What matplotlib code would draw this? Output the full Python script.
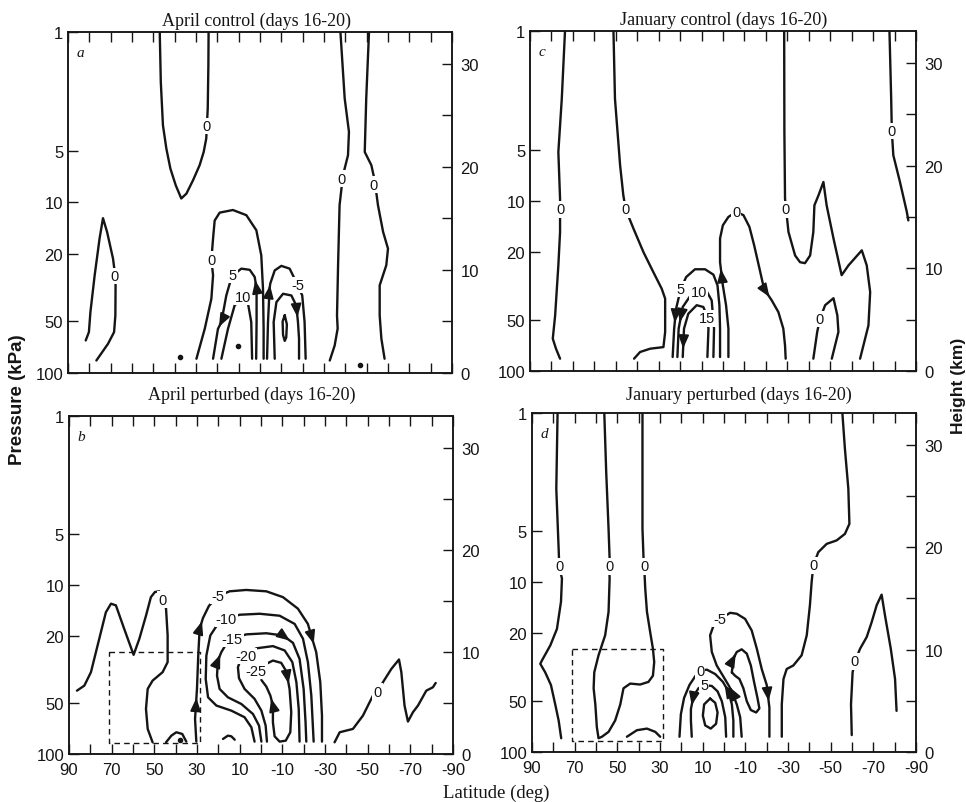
import numpy as np
import matplotlib
matplotlib.use("Agg")
import matplotlib.pyplot as plt
from matplotlib.ticker import NullLocator

plt.rcParams['font.family'] = ['Liberation Sans', 'DejaVu Sans']

# stream function contours, as (latitude deg, pressure kPa)

# --- a: April control ---
a_lobe = [(81.7, 64.6), (80.2, 57.7), (79.5, 44.1), (77.5, 26.8), (75.2, 16.3), (73.6, 12.4),
          (71.7, 14.9), (68.9, 21.4), (68.1, 25.6), (67.7, 30.7), (67.8, 46.1), (68.4, 57.7),
          (71.25, 67.6), (76.7, 84.7)]
a_cup = [(47.0, 1.0), (46.5, 1.97), (45.5, 3.53), (43.9, 4.84), (42.0, 6.35), (39.5, 7.95),
         (36.9, 9.5), (34.5, 8.9), (31.4, 7.43), (28.3, 6.06), (26.4, 5.07), (25.2, 4.23),
         (24.5, 2.82), (24.2, 1.57), (24.1, 1.0)]
a_east1 = [(-37.7, 1.0), (-39.7, 2.46), (-41.7, 3.86), (-41.25, 5.3), (-38.9, 6.94), (-37.3, 10.4),
           (-36.6, 23.4), (-36.1, 46.1), (-36.4, 55.0), (-35.0, 69.2), (-32.7, 84.7)]
a_east2 = [(-51.1, 1.0), (-49.8, 2.46), (-49.1, 5.07), (-52.2, 6.06), (-53.75, 7.43), (-55.3, 10.4),
           (-57.7, 14.9), (-60.0, 18.7), (-59.2, 23.4), (-56.1, 30.7), (-56.1, 46.1), (-56.9, 63.1),
           (-58.4, 82.7)]
a_zero = [(29.8, 82.7), (25.9, 55.2), (22.8, 36.8), (22.0, 26.8), (22.8, 21.7), (22.0, 16.3),
          (21.25, 12.8), (18.9, 11.5), (12.7, 11.1), (6.4, 11.9), (1.7, 14.6), (-0.6, 20.5),
          (-1.4, 32.1), (-1.7, 55.2), (-1.7, 82.7)]
a_p5 = [(22.0, 82.7), (19.7, 55.2), (18.1, 50.4), (15.8, 35.2), (14.2, 30.0), (12.7, 26.8),
        (8.75, 24.5), (4.8, 24.9), (2.5, 27.4), (1.6, 32.0), (1.6, 50.0), (1.8, 82.7)]
a_p10 = [(18.1, 82.7), (15.0, 55.2), (11.9, 40.3), (8.0, 36.0), (5.6, 39.4), (4.1, 50.4), (3.7, 82.7)]
a_m5 = [(-3.3, 82.7), (-3.75, 50.4), (-4.5, 32.1), (-4.8, 30.0), (-6.9, 25.1), (-10.0, 23.6),
        (-13.9, 24.5), (-17.0, 29.4), (-19.8, 35.2), (-20.9, 50.4), (-21.4, 82.7)]
a_m10 = [(-6.9, 82.7), (-6.4, 50.4), (-7.7, 38.5), (-10.8, 34.4), (-14.7, 35.2), (-17.0, 40.3),
         (-17.8, 50.4), (-18.3, 63.1), (-18.3, 82.7)]
a_min = [(-11.6, 46.0), (-12.6, 52.0), (-12.3, 62.0), (-11.6, 65.0), (-10.8, 60.0), (-10.6, 50.0),
         (-11.6, 46.0)]
a_dots = [(10.3, 69.2), (37.6, 81.0), (-46.7, 90.0)]
a_labels = [("0", 68.4, 27.0), ("0", 24.9, 3.58), ("0", -38.1, 7.26), ("0", -53.4, 7.88),
            ("0", 22.8, 21.7), ("5", 12.7, 26.8), ("10", 8.0, 36.0), ("-5", -17.8, 30.5)]
a_arrows = [("a_p5", 1, -1), ("a_p5", 8, -1), ("a_m5", 2, 1), ("a_m10", 5, 1)]

# --- b: April perturbed ---
b_ridge = [(86.25, 42.2), (82.8, 39.4), (79.7, 32.8), (75.8, 20.8), (72.7, 14.5), (70.3, 12.9),
           (68.0, 13.2), (64.1, 18.2), (59.7, 25.9), (57.0, 20.8), (53.9, 15.2), (51.6, 11.8),
           (49.7, 11.0), (47.7, 10.9), (46.1, 12.2), (44.5, 13.8), (43.75, 19.9), (43.75, 28.6),
           (46.1, 32.8), (50.8, 36.8), (53.1, 41.2), (53.9, 54.1), (53.1, 71.1), (50.8, 85.3)]
b_bump1 = [(44.5, 85.3), (42.0, 77.9), (39.7, 74.4), (36.9, 76.1), (35.0, 84.5)]
b_bump2 = [(17.8, 81.5), (15.5, 77.9), (13.9, 78.6), (12.3, 82.3)]
b_m5 = [(30.3, 84.5), (30.9, 62.0), (30.0, 41.2), (29.4, 26.2), (28.75, 18.2), (27.2, 15.7),
        (24.4, 13.3), (20.2, 11.65), (14.7, 10.9), (6.9, 10.7), (-2.5, 10.9), (-10.3, 11.8),
        (-17.3, 13.8), (-22.0, 17.0), (-25.9, 25.0), (-27.8, 37.6), (-28.6, 59.3), (-28.6, 84.5)]
b_m10 = [(3.0, 84.5), (4.5, 69.5), (7.7, 60.6), (13.9, 55.4), (20.9, 51.7), (24.8, 46.2),
         (25.9, 36.0), (25.6, 26.2), (23.75, 19.9), (20.2, 17.0), (16.25, 15.9), (10.0, 15.0),
         (0.6, 14.8), (-8.75, 15.2), (-15.8, 17.0), (-19.7, 20.8), (-22.0, 28.6), (-23.6, 45.1),
         (-24.7, 84.5)]
b_m15 = [(-0.2, 84.5), (0.9, 68.0), (3.75, 58.0), (9.2, 50.6), (15.5, 46.2), (19.4, 41.2),
         (20.6, 34.4), (20.2, 28.0), (18.6, 25.0), (16.25, 22.3), (13.6, 20.8), (6.9, 19.6),
         (-2.5, 19.3), (-10.3, 19.9), (-15.0, 22.0), (-18.1, 27.4), (-20.0, 41.2), (-20.9, 64.9),
         (-21.25, 84.5)]
b_m20 = [(-2.8, 84.5), (-2.2, 68.0), (-0.2, 55.4), (3.0, 47.2), (7.7, 41.2), (10.3, 35.6),
         (10.8, 30.7), (9.7, 28.0), (7.2, 26.2), (2.2, 23.7), (-5.6, 23.0), (-11.1, 24.4),
         (-14.7, 28.6), (-16.6, 37.6), (-17.7, 54.1), (-18.1, 84.5)]
b_m25 = [(-0.9, 30.0), (-5.6, 28.0), (-9.5, 28.9), (-11.9, 32.5), (-13.4, 41.2), (-14.2, 56.6),
         (-13.75, 74.4), (-11.6, 83.4), (-8.75, 84.5), (-6.4, 78.6), (-5.6, 64.9), (-5.6, 51.7),
         (-4.4, 45.1), (-2.5, 39.9), (-0.2, 36.5)]
b_east = [(-34.5, 85.3), (-36.9, 74.4), (-40.0, 72.7), (-43.1, 71.1), (-47.8, 59.3), (-52.5, 45.1),
          (-54.5, 42.7), (-57.2, 37.6), (-61.1, 31.4), (-64.7, 27.6), (-65.8, 32.8), (-67.3, 51.7),
          (-68.9, 64.3), (-71.25, 56.6), (-73.6, 51.7), (-77.5, 42.2), (-80.6, 40.3), (-81.9, 38.0)]
b_dots = [(38.1, 83.0)]
b_labels = [("0", 46.1, 12.2), ("-5", 20.2, 11.65), ("-10", 16.25, 15.9), ("-15", 13.6, 20.8),
            ("-20", 7.2, 26.2), ("-25", 2.2, 32.1), ("0", -54.5, 42.7)]
b_arrows = [("b_m5", 1, 1), ("b_m5", 4, 1), ("b_m5", 13, 1), ("b_m15", 7, 1), ("b_m15", 13, 1),
            ("b_m25", 3, 1), ("b_m25", 11, 1)]

# --- c: January control ---
c_w1 = [(73.7, 1.0), (75.2, 2.5), (76.8, 5.15), (76.0, 9.7), (76.0, 15.2), (76.8, 23.9),
        (78.3, 47.1), (79.4, 64.5), (77.9, 73.9), (76.0, 84.6)]
c_w2 = [(51.1, 1.0), (50.4, 2.5), (48.0, 6.17), (46.5, 9.26), (45.4, 11.2), (41.8, 14.5),
        (37.1, 20.0), (32.5, 26.2), (28.6, 32.8), (27.0, 37.5), (27.0, 58.9), (27.8, 72.3),
        (34.0, 73.9), (38.7, 77.3), (41.5, 84.6)]
c_p5 = [(23.5, 82.7), (22.8, 56.3), (21.9, 43.0), (19.7, 32.8), (17.2, 28.0), (13.1, 25.2),
        (8.4, 25.2), (4.5, 27.1), (2.6, 31.3), (1.7, 41.0), (1.4, 56.3), (1.4, 82.7)]
c_p10 = [(21.3, 82.7), (20.7, 56.3), (18.8, 42.0), (14.6, 35.1), (10.7, 33.2), (7.6, 34.0),
         (5.3, 38.4), (4.2, 56.3), (4.5, 82.7)]
c_p15 = [(18.8, 82.7), (18.2, 56.3), (16.2, 46.0), (12.3, 41.0), (9.2, 42.0), (7.3, 48.1),
         (6.8, 56.3), (7.3, 82.7)]
c_zero = [(-2.5, 82.7), (-2.5, 56.3), (-1.4, 41.0), (0.1, 31.3), (1.4, 22.9), (1.4, 16.6),
          (0.1, 13.9), (-2.5, 12.4), (-6.1, 11.6), (-9.5, 12.1), (-12.3, 14.2), (-14.5, 18.2),
          (-17.0, 25.0), (-19.1, 32.8), (-22.7, 38.4), (-25.8, 45.0), (-28.1, 56.3), (-28.9, 70.6),
          (-29.2, 84.6)]
c_e1 = [(-28.5, 1.0), (-28.6, 3.93), (-28.9, 9.69), (-30.5, 15.2), (-33.6, 20.9), (-35.9, 22.9),
        (-38.2, 23.2), (-40.6, 20.9), (-42.1, 15.2), (-42.6, 10.6), (-44.5, 9.26), (-46.8, 7.73),
        (-48.3, 10.6), (-51.5, 16.6), (-55.3, 27.3), (-58.5, 23.9), (-64.7, 19.5), (-67.0, 23.9),
        (-68.6, 34.3), (-67.8, 53.9), (-63.9, 84.6)]
c_e2 = [(-42.1, 84.6), (-43.9, 58.9), (-45.2, 49.3), (-47.6, 41.0), (-51.5, 37.3), (-53.3, 47.1),
        (-53.8, 58.9), (-50.7, 84.6)]
c_e3 = [(-77.6, 1.0), (-78.4, 2.5), (-78.7, 3.88), (-79.4, 5.38), (-82.5, 7.73), (-85.7, 11.6),
        (-86.4, 13.0)]
c_labels = [("0", 76.0, 11.2), ("0", 45.4, 11.2), ("5", 19.7, 32.8), ("10", 11.3, 34.3),
            ("15", 7.3, 49.0), ("0", -6.1, 11.6), ("0", -28.9, 11.2), ("0", -45.2, 49.3),
            ("0", -78.7, 3.88)]
c_arrows = [("c_p5", 1, -1), ("c_p10", 1, -1), ("c_p15", 0, -1), ("c_zero", 3, 1), ("c_zero", 13, 1)]

# --- d: January perturbed ---
d_w1 = [(78.0, 1.0), (78.6, 2.8), (77.5, 6.34), (77.2, 8.04), (75.95, 9.49), (76.4, 13.0),
        (78.3, 18.8), (81.4, 23.5), (85.3, 28.8), (86.1, 30.2), (83.8, 33.9), (81.1, 40.3),
        (79.1, 52.4), (77.5, 65.2), (76.3, 83.0)]
d_u = [(56.1, 1.0), (55.2, 2.24), (54.1, 4.83), (53.6, 7.25), (53.8, 8.04), (53.6, 9.49),
       (54.1, 14.9), (55.7, 20.5), (58.8, 26.9), (60.8, 33.9), (61.1, 42.1), (60.3, 52.4),
       (59.6, 71.2), (58.8, 83.0), (57.2, 81.3), (54.1, 76.1), (51.0, 65.2), (48.6, 52.4),
       (47.1, 42.1), (43.95, 39.5), (39.3, 40.0), (35.4, 38.6), (33.3, 35.5), (32.7, 29.5),
       (33.3, 24.6), (34.6, 19.6), (36.1, 14.9), (36.9, 10.9), (37.4, 8.04), (37.7, 7.25),
       (38.2, 4.83), (38.2, 2.24), (38.2, 1.0)]
d_bump = [(45.5, 81.3), (40.8, 74.4), (36.1, 72.8), (32.2, 76.1), (29.9, 81.3)]
d_zero = [(20.85, 81.3), (20.2, 59.8), (18.7, 48.0), (16.2, 40.3), (13.5, 35.8), (11.2, 33.1),
          (8.0, 32.7), (4.1, 34.7), (0.5, 38.6), (-2.1, 43.9), (-3.7, 52.4), (-4.4, 65.2),
          (-4.4, 81.3)]
d_p5 = [(15.1, 81.3), (15.5, 65.2), (15.5, 55.9), (14.3, 46.9), (11.95, 42.1), (9.3, 40.3),
        (5.7, 40.8), (3.0, 43.9), (1.0, 50.2), (-0.6, 62.4), (-1.0, 81.3)]
d_oval = [(6.5, 48.4), (4.1, 51.3), (3.0, 58.5), (3.7, 68.2), (6.2, 72.8), (8.8, 69.7),
          (9.9, 61.0), (9.3, 52.4), (6.5, 48.4)]
d_m5 = [(-8.3, 81.3), (-7.6, 62.4), (-6.0, 52.4), (-3.7, 43.9), (-2.1, 40.3), (0.5, 35.5),
        (3.4, 30.9), (5.7, 25.7), (6.5, 20.5), (4.9, 18.0), (2.1, 16.5), (-2.9, 15.1),
        (-6.0, 15.3), (-9.9, 16.4), (-13.0, 19.2), (-15.4, 24.6), (-17.7, 32.4), (-20.05, 40.3),
        (-21.3, 54.8), (-21.3, 81.3)]
d_loop = [(-3.7, 33.9), (-4.4, 28.1), (-6.0, 25.7), (-8.3, 24.8), (-10.7, 26.3), (-12.6, 30.9),
          (-14.1, 38.6), (-15.7, 48.0), (-16.6, 55.3), (-15.1, 58.5), (-12.6, 56.6), (-10.7, 50.2),
          (-9.1, 42.1), (-7.25, 37.1), (-5.2, 35.5), (-3.7, 33.9)]
d_e1 = [(-55.5, 1.0), (-56.7, 1.63), (-58.3, 2.8), (-58.8, 4.51), (-56.7, 5.17), (-52.8, 5.65),
        (-48.15, 5.92), (-44.2, 6.63), (-41.9, 7.93), (-41.1, 9.93), (-40.3, 13.6), (-38.8, 20.5),
        (-36.4, 26.9), (-32.5, 30.9), (-29.4, 32.4), (-27.9, 37.1), (-27.1, 52.4), (-27.1, 81.3)]
d_e2 = [(-59.9, 79.5), (-59.55, 52.4), (-60.3, 33.9), (-61.4, 29.2), (-63.8, 24.6), (-66.9, 21.0),
        (-69.2, 17.2), (-71.6, 13.6), (-73.9, 11.8), (-75.5, 15.7), (-78.2, 24.6), (-80.2, 37.1),
        (-80.9, 57.2)]
d_labels = [("0", 77.2, 8.04), ("0", 53.8, 8.04), ("0", 37.4, 8.04), ("0", 11.2, 33.1),
            ("5", 9.3, 40.3), ("-5", 2.1, 16.5), ("0", -41.9, 7.93), ("0", -61.4, 29.2)]
d_arrows = [("d_p5", 2, -1), ("d_zero", 8, -1), ("d_m5", 3, 1), ("d_loop", 1, 1), ("d_m5", 17, 1)]

# dashed box drawn in both perturbed panels
box_lat = [71.2, 28.5]
box_p = [24.8, 86.0]

titles = ["April control (days 16-20)", "April perturbed (days 16-20)",
          "January control (days 16-20)", "January perturbed (days 16-20)"]
letters = ["a", "b", "c", "d"]

lat_ticks = list(range(90, -91, -10))
lat_ticklabels = [str(v) if v % 20 == 10 or abs(v) == 90 else "" for v in lat_ticks]
p_ticks = [1, 5, 10, 20, 50, 100]
p_ticklabels = ["1", "5", "10", "20", "50", "100"]
z_ticks = [0, 5, 10, 15, 20, 25, 30]
z_ticklabels = ["0", "", "10", "", "20", "", "30"]
z_top = 33.1

ink = "#151515"

panels = {
    "a": ({"a_lobe": a_lobe, "a_cup": a_cup, "a_east1": a_east1, "a_east2": a_east2,
           "a_zero": a_zero, "a_p5": a_p5, "a_p10": a_p10, "a_m5": a_m5, "a_m10": a_m10,
           "a_min": a_min}, a_labels, a_arrows, a_dots, False),
    "b": ({"b_ridge": b_ridge, "b_bump1": b_bump1, "b_bump2": b_bump2, "b_m5": b_m5,
           "b_m10": b_m10, "b_m15": b_m15, "b_m20": b_m20, "b_m25": b_m25, "b_east": b_east},
          b_labels, b_arrows, b_dots, True),
    "c": ({"c_w1": c_w1, "c_w2": c_w2, "c_p5": c_p5, "c_p10": c_p10, "c_p15": c_p15,
           "c_zero": c_zero, "c_e1": c_e1, "c_e2": c_e2, "c_e3": c_e3}, c_labels, c_arrows, [], False),
    "d": ({"d_w1": d_w1, "d_u": d_u, "d_bump": d_bump, "d_zero": d_zero, "d_p5": d_p5,
           "d_oval": d_oval, "d_m5": d_m5, "d_loop": d_loop, "d_e1": d_e1, "d_e2": d_e2},
          d_labels, d_arrows, [], True),
}

# axes rectangles in figure fractions
rects = {"a": [0.0704, 0.5345, 0.3975, 0.4247],
         "b": [0.0714, 0.0598, 0.3975, 0.4209],
         "c": [0.5487, 0.5367, 0.3996, 0.4234],
         "d": [0.5507, 0.0623, 0.3975, 0.4222]}
title_pos = {"a": (0.266, 0.974), "b": (0.261, 0.508), "c": (0.7495, 0.975), "d": (0.765, 0.508)}


def add_arrow(ax, pts, i, d):
    (x0, p0), (x1, p1) = pts[i], pts[i + 1]
    if d < 0:
        (x0, p0), (x1, p1) = (x1, p1), (x0, p0)
    l0, l1 = np.log10(p0), np.log10(p1)
    tail = (x0 + 0.3 * (x1 - x0), 10 ** (l0 + 0.3 * (l1 - l0)))
    head = (x0 + 0.7 * (x1 - x0), 10 ** (l0 + 0.7 * (l1 - l0)))
    ax.annotate("", xy=head, xytext=tail,
                arrowprops=dict(arrowstyle="-|>,head_length=0.7,head_width=0.28",
                                color=ink, lw=1.4, shrinkA=0, shrinkB=0, mutation_scale=11))


fig = plt.figure(figsize=(9.66, 8.03), dpi=100)

for key in ["a", "b", "c", "d"]:
    lines, labels, arrows, dots, bottom_row = panels[key]
    ax = fig.add_axes(rects[key])
    ax.set_xlim(90, -90)
    ax.set_yscale("log")
    ax.set_ylim(100, 1)

    for name, pts in lines.items():
        lat = [q[0] for q in pts]
        prs = [q[1] for q in pts]
        ax.plot(lat, prs, color=ink, lw=1.7, solid_joinstyle="round", solid_capstyle="round")
    for name, i, d in arrows:
        add_arrow(ax, lines[name], i, d)
    for lat, prs in dots:
        ax.plot(lat, prs, "o", color=ink, ms=3)
    for s, lat, prs in labels:
        ax.text(lat, prs, s, ha="center", va="center", fontsize=10.5, color=ink, zorder=5,
                bbox=dict(boxstyle="square,pad=0.08", fc="white", ec="none"))
    if bottom_row:
        ax.plot([box_lat[0], box_lat[1], box_lat[1], box_lat[0], box_lat[0]],
                [box_p[0], box_p[0], box_p[1], box_p[1], box_p[0]],
                color=ink, lw=1.0, ls=(0, (4, 3)))

    ax.set_xticks(lat_ticks)
    ax.set_xticklabels(lat_ticklabels if bottom_row else [""] * len(lat_ticks))
    ax.set_yticks(p_ticks)
    ax.set_yticklabels(p_ticklabels)
    ax.yaxis.set_minor_locator(NullLocator())
    ax.tick_params(axis="both", which="both", direction="in", length=7, width=1.0,
                   top=True, labelsize=12, pad=3.5, colors=ink)
    ax.tick_params(axis="x", pad=6)
    for sp in ax.spines.values():
        sp.set_linewidth(1.1)
        sp.set_color(ink)

    ax2 = ax.twinx()
    ax2.set_ylim(0, z_top)
    ax2.set_yticks(z_ticks)
    ax2.set_yticklabels(z_ticklabels)
    ax2.tick_params(axis="y", direction="in", length=7, width=1.0, labelsize=12, pad=6, colors=ink)
    for sp in ax2.spines.values():
        sp.set_linewidth(1.1)
        sp.set_color(ink)

    ax.text(0.023, 0.94, letters["abcd".index(key)], transform=ax.transAxes, fontsize=11,
            family="Liberation Serif", style="italic", ha="left", va="center", color=ink)
    tx, ty = title_pos[key]
    fig.text(tx, ty, titles["abcd".index(key)], ha="center", va="center", fontsize=13,
             family="Liberation Serif", color=ink)

fig.text(0.0176, 0.502, "Pressure (kPa)", rotation=90, ha="center", va="center",
         fontsize=13.5, fontweight="bold", color=ink)
fig.text(0.9925, 0.519, "Height (km)", rotation=90, ha="center", va="center",
         fontsize=12.5, fontweight="bold", color=ink)
fig.text(0.5135, 0.0115, "Latitude (deg)", ha="center", va="center", fontsize=13.5,
         family="Liberation Serif", color=ink)

fig.savefig("out.png", dpi=100, facecolor="white")
